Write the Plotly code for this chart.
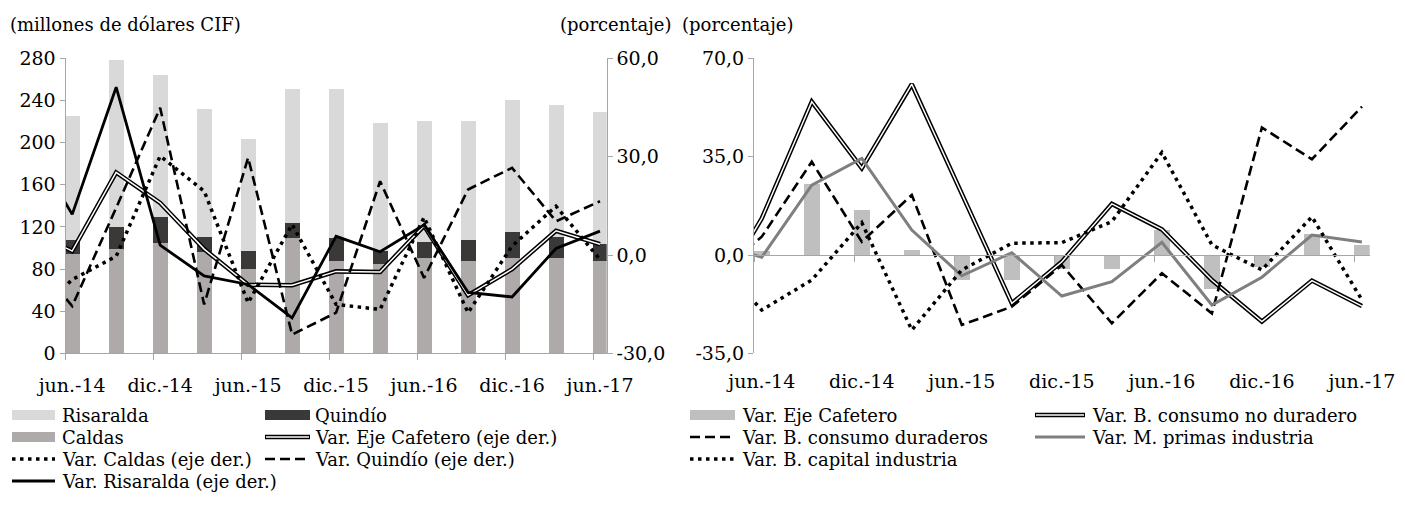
import plotly.graph_objects as go

# ---------------- data ----------------
categories = ["jun.-14", "sep.-14", "dic.-14", "mar.-15", "jun.-15", "sep.-15", "dic.-15",
              "mar.-16", "jun.-16", "sep.-16", "dic.-16", "mar.-17", "jun.-17"]
prior_category = "mar.-14"   # earlier point, only its segment into the plot is visible
tick_labels = ["jun.-14", "dic.-14", "jun.-15", "dic.-15", "jun.-16", "dic.-16", "jun.-17"]

# value-axis ticks (labels as printed in the original, with comma decimals)
left_ticks = [0, 40, 80, 120, 160, 200, 240, 280]
pct_left_ticks = [-30, 0, 30, 60]
pct_left_labels = ["-30,0", "0,0", "30,0", "60,0"]
pct_right_ticks = [-35, 0, 35, 70]
pct_right_labels = ["-35,0", "0,0", "35,0", "70,0"]

# left panel: millones de dólares CIF (stacked)
caldas = [94, 99, 104, 96, 80, 109, 87, 84, 90, 87, 90, 90, 87]
quindio = [13, 21, 25, 14, 17, 14, 22, 13, 15, 20, 25, 20, 16]
risaralda = [118, 158, 135, 122, 106, 128, 142, 121, 115, 113, 125, 125, 126]

# left panel: variations (%), first value = prior_category
var_eje = [7.8, 1.2, 25.2, 15.9, 1.8, -9.1, -9.2, -5.0, -5.2, 8.9, -12.3, -4.3, 7.4, 3.3]
var_caldas = [-20.7, -7.5, -0.4, 30.2, 19.5, -14.6, 9.3, -15.1, -16.6, 11.5, -17.6, 2.7, 14.9, -1.4]
var_quindio = [0.8, -15.6, 14.4, 44.9, -15.1, 29.7, -24.3, -17.6, 22.5, -7.0, 20.0, 26.6, 10.3, 16.4]
var_risaralda = [35.4, 12.4, 51.2, 3.0, -6.4, -9.0, -19.2, 5.7, 1.0, 9.2, -11.4, -12.8, 2.0, 7.3]

# right panel: variations (%), first value = prior_category
var_no_duradero = [-17.0, 13.0, 54.6, 30.9, 60.8, 22.0, -17.2, -2.4, 18.2, 9.1, -8.9, -23.7, -9.1, -18.2]
var_duraderos = [-8.3, 6.5, 33.2, 4.7, 21.4, -24.9, -18.4, -3.6, -24.3, -6.5, -20.8, 45.4, 34.1, 52.8]
var_capital = [-0.2, -19.6, -8.9, 11.5, -26.7, -5.3, 4.2, 4.4, 11.9, 36.5, 3.6, -5.3, 13.6, -16.0]
var_primas = [4.4, -0.8, 24.9, 34.4, 8.9, -7.4, 0.8, -14.6, -9.5, 4.5, -17.8, -7.9, 7.1, 4.6]

# ---------------- styling ----------------
W, H = 1405, 518
FONT = "DejaVu Serif"
AX = "#a6a6a6"
C_RIS, C_QUI, C_CAL, C_EJE_BAR, C_GRAY = "#d9d9d9", "#3b3838", "#aeaaaa", "#bfbfbf", "#7f7f7f"
DOT = "3.5px,4.5px"
DASH = "10px,5px"

n = len(categories)
xb = list(range(n))              # bar positions
xl = list(range(-1, n))          # line positions (incl. prior point)
tickpos = list(range(0, n, 2))
edge_ticks = [k - 0.15 for k in tickpos]


def px(x):
    return x / W


def py(y):
    return 1 - y / H


fig = go.Figure()

# left panel bars
for name, vals, col in [("Caldas", caldas, C_CAL), ("Quindío", quindio, C_QUI), ("Risaralda", risaralda, C_RIS)]:
    fig.add_trace(go.Bar(x=xb, y=vals, name=name, marker=dict(color=col, line=dict(width=0)),
                         width=0.33, xaxis="x", yaxis="y", showlegend=False))

# left panel lines (right axis)
fig.add_trace(go.Scatter(x=xl, y=var_eje, mode="lines", line=dict(color="black", width=4.5),
                         xaxis="x", yaxis="y2", showlegend=False))
fig.add_trace(go.Scatter(x=xl, y=var_eje, mode="lines", line=dict(color="white", width=1.5),
                         xaxis="x", yaxis="y2", showlegend=False, name="Var. Eje Cafetero (eje der.)"))
fig.add_trace(go.Scatter(x=xl, y=var_caldas, mode="lines", line=dict(color="black", width=3.5, dash=DOT),
                         xaxis="x", yaxis="y2", showlegend=False, name="Var. Caldas (eje der.)"))
fig.add_trace(go.Scatter(x=xl, y=var_quindio, mode="lines", line=dict(color="black", width=2.6, dash=DASH),
                         xaxis="x", yaxis="y2", showlegend=False, name="Var. Quindío (eje der.)"))
fig.add_trace(go.Scatter(x=xl, y=var_risaralda, mode="lines", line=dict(color="black", width=2.8),
                         xaxis="x", yaxis="y2", showlegend=False, name="Var. Risaralda (eje der.)"))

# right panel
fig.add_trace(go.Bar(x=xb, y=var_eje[1:], marker=dict(color=C_EJE_BAR, line=dict(width=0)), width=0.32,
                     xaxis="x3", yaxis="y3", showlegend=False, name="Var. Eje Cafetero"))
fig.add_trace(go.Scatter(x=[], y=[], xaxis="x4", yaxis="y3", showlegend=False, hoverinfo="skip"))
fig.add_trace(go.Scatter(x=xl, y=var_no_duradero, mode="lines", line=dict(color="black", width=4.5),
                         xaxis="x3", yaxis="y3", showlegend=False))
fig.add_trace(go.Scatter(x=xl, y=var_no_duradero, mode="lines", line=dict(color="white", width=1.5),
                         xaxis="x3", yaxis="y3", showlegend=False, name="Var. B. consumo no duradero"))
fig.add_trace(go.Scatter(x=xl, y=var_duraderos, mode="lines", line=dict(color="black", width=2.6, dash=DASH),
                         xaxis="x3", yaxis="y3", showlegend=False, name="Var. B. consumo duraderos"))
fig.add_trace(go.Scatter(x=xl, y=var_primas, mode="lines", line=dict(color=C_GRAY, width=3),
                         xaxis="x3", yaxis="y3", showlegend=False, name="Var. M. primas industria"))
fig.add_trace(go.Scatter(x=xl, y=var_capital, mode="lines", line=dict(color="black", width=3.5, dash=DOT),
                         xaxis="x3", yaxis="y3", showlegend=False, name="Var. B. capital industria"))

ydom = [py(353.3), py(58.4)]
tickfont = dict(family=FONT, size=19, color="black")

fig.update_layout(
    width=W, height=H, margin=dict(l=0, r=0, t=0, b=0, autoexpand=False),
    paper_bgcolor="white", plot_bgcolor="white", separators=",.",
    font=dict(family=FONT, size=19, color="black"),
    barmode="stack", bargap=0, showlegend=False,
    xaxis=dict(domain=[px(65.5), px(606.7)], range=[-0.152, n - 1 + 0.152], anchor="y",
               tickmode="array", tickvals=tickpos, ticktext=tick_labels, ticks="",
               showline=True, linecolor=AX, linewidth=1, showgrid=False, zeroline=False,
               tickfont=tickfont, ticklabelstandoff=15,
               minor=dict(tickmode="array", tickvals=edge_ticks, ticks="outside", ticklen=6,
                          tickcolor=AX, tickwidth=1, showgrid=False)),
    yaxis=dict(domain=ydom, range=[0, 280], tickmode="array", tickvals=left_ticks, anchor="x",
               ticks="outside", ticklen=5, tickcolor=AX, showline=True, linecolor=AX,
               showgrid=False, zeroline=False, tickfont=tickfont),
    yaxis2=dict(overlaying="y", side="right", anchor="x", range=[-30, 60], tickmode="array",
                tickvals=pct_left_ticks, ticktext=pct_left_labels, ticks="outside", ticklen=5,
                tickcolor=AX, showline=True, linecolor=AX, showgrid=False, zeroline=False,
                tickfont=tickfont),
    xaxis3=dict(domain=[px(754), px(1369.7)], range=[-0.155, n - 1 + 0.155], anchor="y3",
                tickmode="array", tickvals=tickpos, ticktext=tick_labels, ticks="",
                showline=False, showgrid=False, zeroline=False, tickfont=tickfont,
                ticklabelstandoff=15),
    xaxis4=dict(overlaying="x3", anchor="free", position=py(255.0), range=[-0.155, n - 1 + 0.155],
                tickmode="array", tickvals=[k - 0.15 for k in tickpos], ticks="outside", ticklen=6,
                tickcolor=AX, showticklabels=False, showline=True, linecolor=AX, linewidth=1,
                showgrid=False, zeroline=False),
    yaxis3=dict(domain=ydom, range=[-35, 70], anchor="x3", tickmode="array",
                tickvals=pct_right_ticks, ticktext=pct_right_labels, ticks="outside", ticklen=5,
                tickcolor=AX, showline=True, linecolor=AX, showgrid=False, zeroline=False,
                tickfont=tickfont),
)

# axis titles
ann = [
    dict(text="(millones de dólares CIF)", x=px(8), y=py(24), xanchor="left"),
    dict(text="(porcentaje)", x=px(674), y=py(24), xanchor="right"),
    dict(text="(porcentaje)", x=px(680), y=py(24), xanchor="left"),
]

shapes = []


def rect(x0, x1, yc, col):
    shapes.append(dict(type="rect", xref="paper", yref="paper", x0=px(x0), x1=px(x1),
                       y0=py(yc + 5), y1=py(yc - 5), fillcolor=col, line=dict(width=0)))


def seg(x0, x1, yc, col, w, dash="solid"):
    shapes.append(dict(type="line", xref="paper", yref="paper", x0=px(x0), x1=px(x1),
                       y0=py(yc), y1=py(yc), line=dict(color=col, width=w, dash=dash)))


def label(x, yc, text):
    ann.append(dict(text=text, x=px(x), y=py(yc), xanchor="left"))


rows = [415, 437, 459, 481]
# left legend
rect(12, 55, rows[0], C_RIS); label(60, rows[0], "Risaralda")
rect(265, 310, rows[0], C_QUI); label(313, rows[0], "Quindío")
rect(12, 55, rows[1], C_CAL); label(60, rows[1], "Caldas")
seg(265, 310, rows[1], "black", 4.5); seg(266, 309, rows[1], "white", 1.5)
label(313, rows[1], "Var. Eje Cafetero (eje der.)")
seg(12, 55, rows[2], "black", 3.5, DOT); label(60, rows[2], "Var. Caldas (eje der.)")
seg(265, 310, rows[2], "black", 2.6, DASH); label(313, rows[2], "Var. Quindío (eje der.)")
seg(12, 55, rows[3], "black", 2.8); label(60, rows[3], "Var. Risaralda (eje der.)")
# right legend
rect(690, 735, rows[0], C_EJE_BAR); label(740, rows[0], "Var. Eje Cafetero")
seg(1035, 1085, rows[0], "black", 4.5); seg(1036, 1084, rows[0], "white", 1.5)
label(1090, rows[0], "Var. B. consumo no duradero")
seg(690, 735, rows[1], "black", 2.6, DASH); label(740, rows[1], "Var. B. consumo duraderos")
seg(1035, 1085, rows[1], C_GRAY, 3); label(1090, rows[1], "Var. M. primas industria")
seg(690, 735, rows[2], "black", 3.5, DOT); label(740, rows[2], "Var. B. capital industria")

for a in ann:
    a.update(xref="paper", yref="paper", yanchor="middle", showarrow=False,
             font=dict(family=FONT, size=18, color="black"))

fig.update_layout(annotations=ann, shapes=shapes)

fig.write_html("out.html", config={"displayModeBar": False},
               post_script="document.body.style.margin='0px'; document.body.style.overflow='hidden';")
